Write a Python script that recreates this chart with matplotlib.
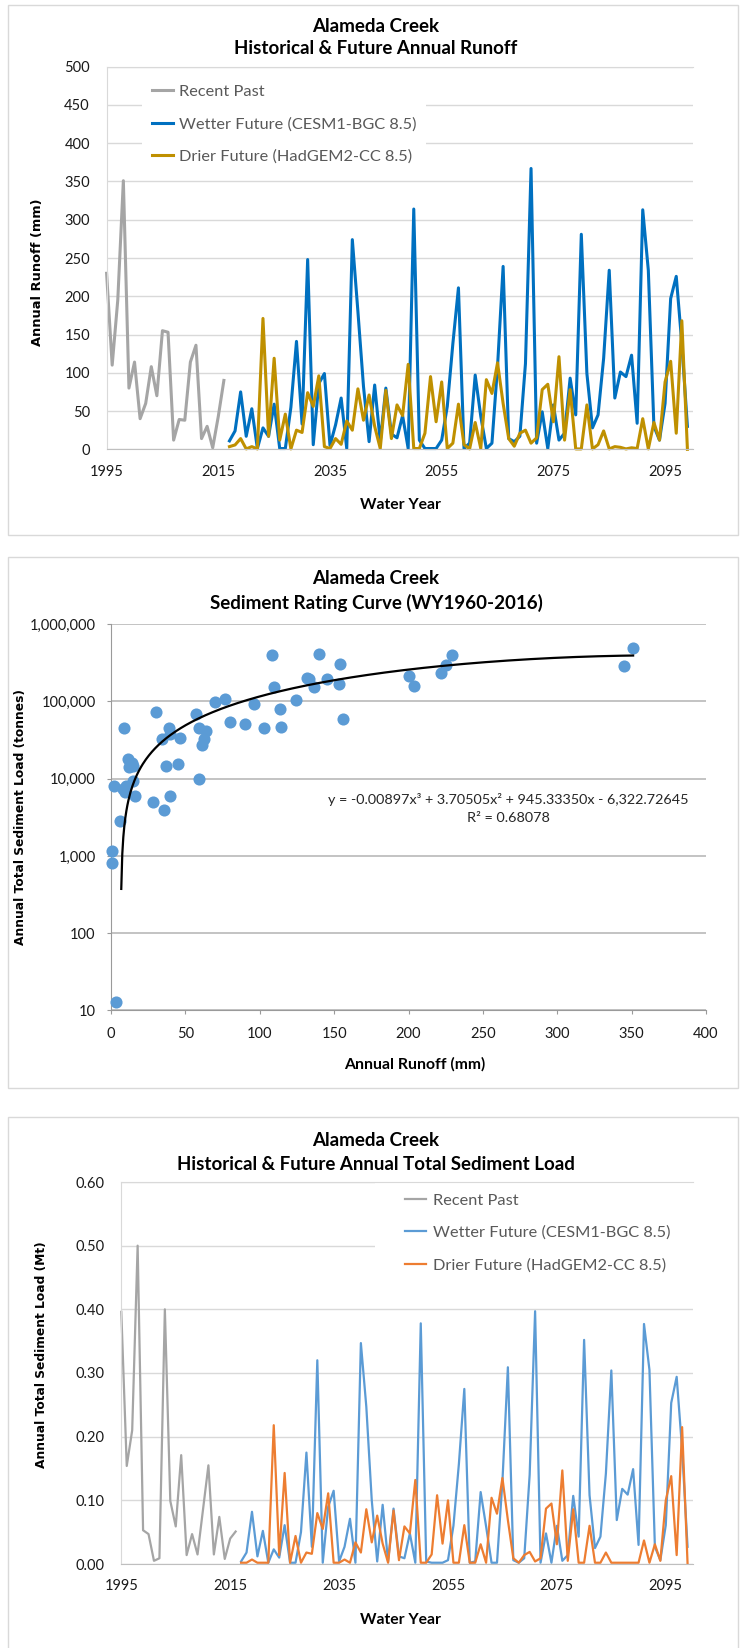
import numpy as np
import matplotlib
matplotlib.use('Agg')
import matplotlib.pyplot as plt
from matplotlib.patches import Rectangle
from matplotlib.ticker import FuncFormatter, NullLocator

plt.rcParams['font.family'] = ['Lato', 'DejaVu Sans']

# ---------------- data ----------------
years_past = list(range(1995, 2017))
years_future = list(range(2017, 2100))

runoff_past = [230, 110, 195, 351, 80, 114, 40, 60, 108, 70, 155, 153, 12, 39, 38,
               114, 136, 14, 30, 2, 43, 90]
runoff_wet = [11, 24, 75, 17, 53, 1, 28, 17, 59, 1, 1, 55, 141, 33, 248, 6, 86, 99,
              5, 32, 67, 1, 274, 180, 82, 10, 84, 10, 80, 20, 15, 44, 1,
              314, 12, 1, 1, 1, 12, 56, 138, 211, 1, 8, 97, 43, 1, 8, 108, 239,
              14, 10, 17, 112, 367, 8, 49, 1, 58, 12, 21, 93, 45, 281, 99, 28,
              45, 119, 234, 67, 101, 95, 123, 34, 313, 234, 30, 12, 60, 197, 226,
              138, 30]
runoff_dry = [3.5, 5.7, 14, 0.5, 3.5, 0.5, 171, 17, 119, 12, 46, 0.5, 25, 22, 74, 56,
              96, 3.5, 1, 14, 6.5, 37, 25, 79, 38, 71, 30, 1, 77, 14, 58, 44, 111,
              1, 1, 21, 95, 36, 88, 1, 8, 59, 6, 0.5, 35, 1, 91, 73, 113, 60,
              14, 4, 21, 25, 8, 15, 78, 85, 36, 121, 12, 78, 0.5, 0.5, 58, 0.5,
              6, 24, 0.5, 3.5, 2.6, 0.5, 2, 1, 40, 0.5, 35, 12, 88, 115, 21,
              168, 0]

sed_past = [0.396, 0.154, 0.21, 0.50, 0.053, 0.047, 0.005, 0.009, 0.40, 0.099, 0.059,
            0.171, 0.014, 0.047, 0.015, 0.085, 0.155, 0.015, 0.074, 0.008, 0.040, 0.051]
sed_wet = [0.004, 0.018, 0.082, 0.012, 0.052, 0.002, 0.023, 0.010, 0.061, 0.002, 0.002,
           0.050, 0.175, 0.027, 0.320, 0.002, 0.090, 0.115, 0.004, 0.027, 0.071, 0.002,
           0.347, 0.247, 0.100, 0.004, 0.093, 0.004, 0.087, 0.012, 0.009, 0.048, 0.002,
           0.378, 0.004, 0.002, 0.002, 0.002, 0.006, 0.060, 0.157, 0.275, 0.002, 0.004,
           0.113, 0.059, 0.002, 0.002, 0.130, 0.309, 0.006, 0.002, 0.009, 0.140, 0.397,
           0.002, 0.048, 0.002, 0.060, 0.005, 0.014, 0.107, 0.043, 0.352, 0.108, 0.025,
           0.043, 0.142, 0.304, 0.069, 0.118, 0.109, 0.149, 0.030, 0.377, 0.305, 0.027,
           0.006, 0.061, 0.253, 0.294, 0.180, 0.027]
sed_dry = [0.002, 0.002, 0.007, 0.002, 0.002, 0.002, 0.218, 0.014, 0.143, 0.002, 0.044,
           0.002, 0.018, 0.016, 0.080, 0.055, 0.111, 0.002, 0.002, 0.007, 0.002, 0.034,
           0.018, 0.086, 0.034, 0.076, 0.032, 0.002, 0.084, 0.006, 0.059, 0.048, 0.132,
           0.002, 0.002, 0.015, 0.108, 0.032, 0.100, 0.002, 0.002, 0.061, 0.002, 0.002,
           0.031, 0.002, 0.104, 0.079, 0.135, 0.069, 0.009, 0.002, 0.014, 0.019, 0.004,
           0.009, 0.087, 0.095, 0.031, 0.147, 0.005, 0.086, 0.002, 0.002, 0.060, 0.002,
           0.002, 0.018, 0.002, 0.002, 0.002, 0.002, 0.002, 0.002, 0.037, 0.002, 0.031,
           0.005, 0.100, 0.138, 0.014, 0.215, 0.001]

rating_runoff = [0.4, 0.4, 3.5, 2.0, 6.1, 8.5, 8.3, 9.5, 10.1, 15.0, 11.2, 12.1, 13.9, 15.0,
                 15.9, 28.0, 30.3, 34.1, 35.9, 37.2, 39.0, 39.7, 39.7, 45.3, 46.4, 57.4,
                 59.2, 59.4, 61.0, 62.6, 63.9, 70.2, 76.9, 80.1, 89.9, 96.0, 103.0, 108.1,
                 109.9, 113.7, 114.2, 124.5, 131.7, 132.8, 136.4, 139.7, 144.9, 153.0,
                 154.1, 155.7, 200.3, 203.5, 222.0, 225.5, 229.0, 344.6, 351.0]
rating_load = [1170, 800, 13, 8100, 2800, 45000, 7300, 6800, 8100, 9300, 18000, 14300,
               15800, 14800, 5900, 5000, 74000, 32500, 3940, 14800, 46000, 38000, 5900,
               15500, 34000, 68000, 45000, 10000, 27000, 32500, 41000, 98000, 108000,
               53500, 51000, 94000, 45000, 397000, 155000, 79000, 47000, 104000, 203000,
               195000, 155000, 418000, 193000, 171000, 304000, 59000, 213000, 160000,
               233000, 293000, 400000, 290000, 500000]
trend_coefs = [-0.00897, 3.70505, 945.33350, -6322.72645]

labels = ['Recent Past', 'Wetter Future (CESM1-BGC 8.5)', 'Drier Future (HadGEM2-CC 8.5)']

# ---------------- layout helpers (pixels) ----------------
W, H = 743, 1648
fig = plt.figure(figsize=(W / 100, H / 100), dpi=100)

TITLE = 13.5
LEG = 11.8
TICK = 10.5
XLAB = 11.3


def fx(x):
    return x / W


def fy(y):
    return 1 - y / H


def box(l, t, r, b):
    return [l / W, 1 - b / H, (r - l) / W, (b - t) / H]


def panel(t, b):
    fig.add_artist(Rectangle((fx(8), fy(b)), fx(738) - fx(8), fy(t) - fy(b),
                             transform=fig.transFigure, fill=False,
                             ec='#d9d9d9', lw=1))


def ftext(x, y, s, **kw):
    fig.text(fx(x), fy(y), s, ha='center', va='center', **kw)


def style_ts(ax, ymax, step, fmt, ypad):
    ax.set_xlim(1995, 2100)
    ax.set_ylim(0, ymax)
    ax.set_xticks(range(1995, 2100, 20))
    ax.set_yticks(np.arange(0, ymax + step / 2, step))
    ax.yaxis.set_major_formatter(FuncFormatter(lambda v, p: fmt.format(v)))
    ax.grid(axis='y', color='#d9d9d9', lw=1)
    ax.set_axisbelow(True)
    ax.spines['right'].set_visible(False)
    ax.spines['top'].set_color('#d9d9d9')
    ax.spines['top'].set_zorder(6)
    ax.spines['left'].set_color('#d9d9d9')
    ax.spines['bottom'].set_color('#bfbfbf')
    ax.tick_params(axis='both', length=0, labelsize=TICK, colors='#1a1a1a')
    ax.tick_params(axis='y', pad=ypad)
    ax.tick_params(axis='x', pad=11)


def legend(ax, x, y, pad):
    leg = ax.legend(loc='upper left', bbox_to_anchor=(fx(x), fy(y)),
                    bbox_transform=fig.transFigure, fontsize=LEG, borderpad=pad,
                    handlelength=1.3, handletextpad=0.37, labelspacing=1.1,
                    frameon=True, fancybox=False, framealpha=1, edgecolor='none')
    for t in leg.get_texts():
        t.set_color('#595959')


# ---------------- panel 1: runoff ----------------
panel(5, 535)
ax1 = fig.add_axes(box(106.6, 66.7, 693, 449.3))
ax1.plot(years_past, runoff_past, color='#a5a5a5', lw=2.2, label=labels[0], clip_on=False)
ax1.plot(years_future, runoff_wet, color='#0070c0', lw=2.2, label=labels[1], clip_on=False)
ax1.plot(years_future, runoff_dry, color='#bf9000', lw=2.2, label=labels[2], clip_on=False)
style_ts(ax1, 500, 50, '{:.0f}', 12)
legend(ax1, 133.5, 66.5, 0.6)
ftext(376, 27, 'Alameda Creek', fontsize=TITLE, fontweight='bold')
ftext(376, 49, 'Historical & Future Annual Runoff', fontsize=TITLE, fontweight='bold')
ftext(400, 505, 'Water Year', fontsize=XLAB, fontweight='bold')
ftext(38, 272, 'Annual Runoff (mm)', fontsize=9.4, fontweight='bold',
      rotation=90, family='DejaVu Sans')

# ---------------- panel 2: rating curve ----------------
panel(557, 1088)
ax2 = fig.add_axes(box(111, 624.3, 706, 1010.3))
ax2.set_yscale('log')
ax2.scatter(rating_runoff, rating_load, s=76, color='#5b9bd5', zorder=3,
            clip_on=False, linewidths=0)
trend_x = np.linspace(6.9, 351, 500)
ax2.plot(trend_x, np.polyval(trend_coefs, trend_x), color='black', lw=1.6, zorder=4)
ax2.set_xlim(0, 400)
ax2.set_ylim(10, 1e6)
ax2.set_xticks(range(0, 401, 50))
ax2.set_yticks([10, 100, 1e3, 1e4, 1e5, 1e6])
ax2.yaxis.set_minor_locator(NullLocator())
ax2.yaxis.set_major_formatter(FuncFormatter(lambda v, p: '{:,.0f}'.format(v)))
ax2.grid(axis='y', color='#b3b3b3', lw=1.1)
ax2.set_axisbelow(True)
for s in ['top', 'right']:
    ax2.spines[s].set_visible(False)
for s in ['left', 'bottom']:
    ax2.spines[s].set_color('#9a9a9a')
ax2.tick_params(axis='both', length=3, color='#9a9a9a', direction='out',
                labelsize=TICK, labelcolor='#1a1a1a')
ax2.tick_params(axis='y', pad=8)
ax2.tick_params(axis='x', pad=9)
ftext(376, 579, 'Alameda Creek', fontsize=TITLE, fontweight='bold')
ftext(376, 603, 'Sediment Rating Curve (WY1960-2016)', fontsize=TITLE, fontweight='bold')
ftext(415, 1064, 'Annual Runoff (mm)', fontsize=XLAB, fontweight='bold')
ftext(21, 817, 'Annual Total Sediment Load (tonnes)', fontsize=8.8, fontweight='bold',
      rotation=90, family='DejaVu Sans')
ftext(508, 799, 'y = -0.00897x³ + 3.70505x² + 945.33350x - 6,322.72645',
      fontsize=10.4, color='#262626')
ftext(508, 818, 'R² = 0.68078', fontsize=10.4, color='#262626')

# ---------------- panel 3: sediment load ----------------
panel(1117, 1700)
ax3 = fig.add_axes(box(121.3, 1182, 693, 1564))
ax3.plot(years_past, sed_past, color='#a5a5a5', lw=1.6, label=labels[0], clip_on=False)
ax3.plot(years_future, sed_wet, color='#5b9bd5', lw=1.6, label=labels[1], clip_on=False)
ax3.plot(years_future, sed_dry, color='#ed7d31', lw=1.6, label=labels[2], clip_on=False)
style_ts(ax3, 0.6, 0.1, '{:.2f}', 12)
legend(ax3, 367, 1155, 1.83)
ftext(376, 1141, 'Alameda Creek', fontsize=TITLE, fontweight='bold')
ftext(376, 1164, 'Historical & Future Annual Total Sediment Load', fontsize=TITLE,
      fontweight='bold')
ftext(400, 1620, 'Water Year', fontsize=XLAB, fontweight='bold')
ftext(42, 1355, 'Annual Total Sediment Load (Mt)', fontsize=8.8, fontweight='bold',
      rotation=90, family='DejaVu Sans')

fig.savefig('out.png', dpi=100)
